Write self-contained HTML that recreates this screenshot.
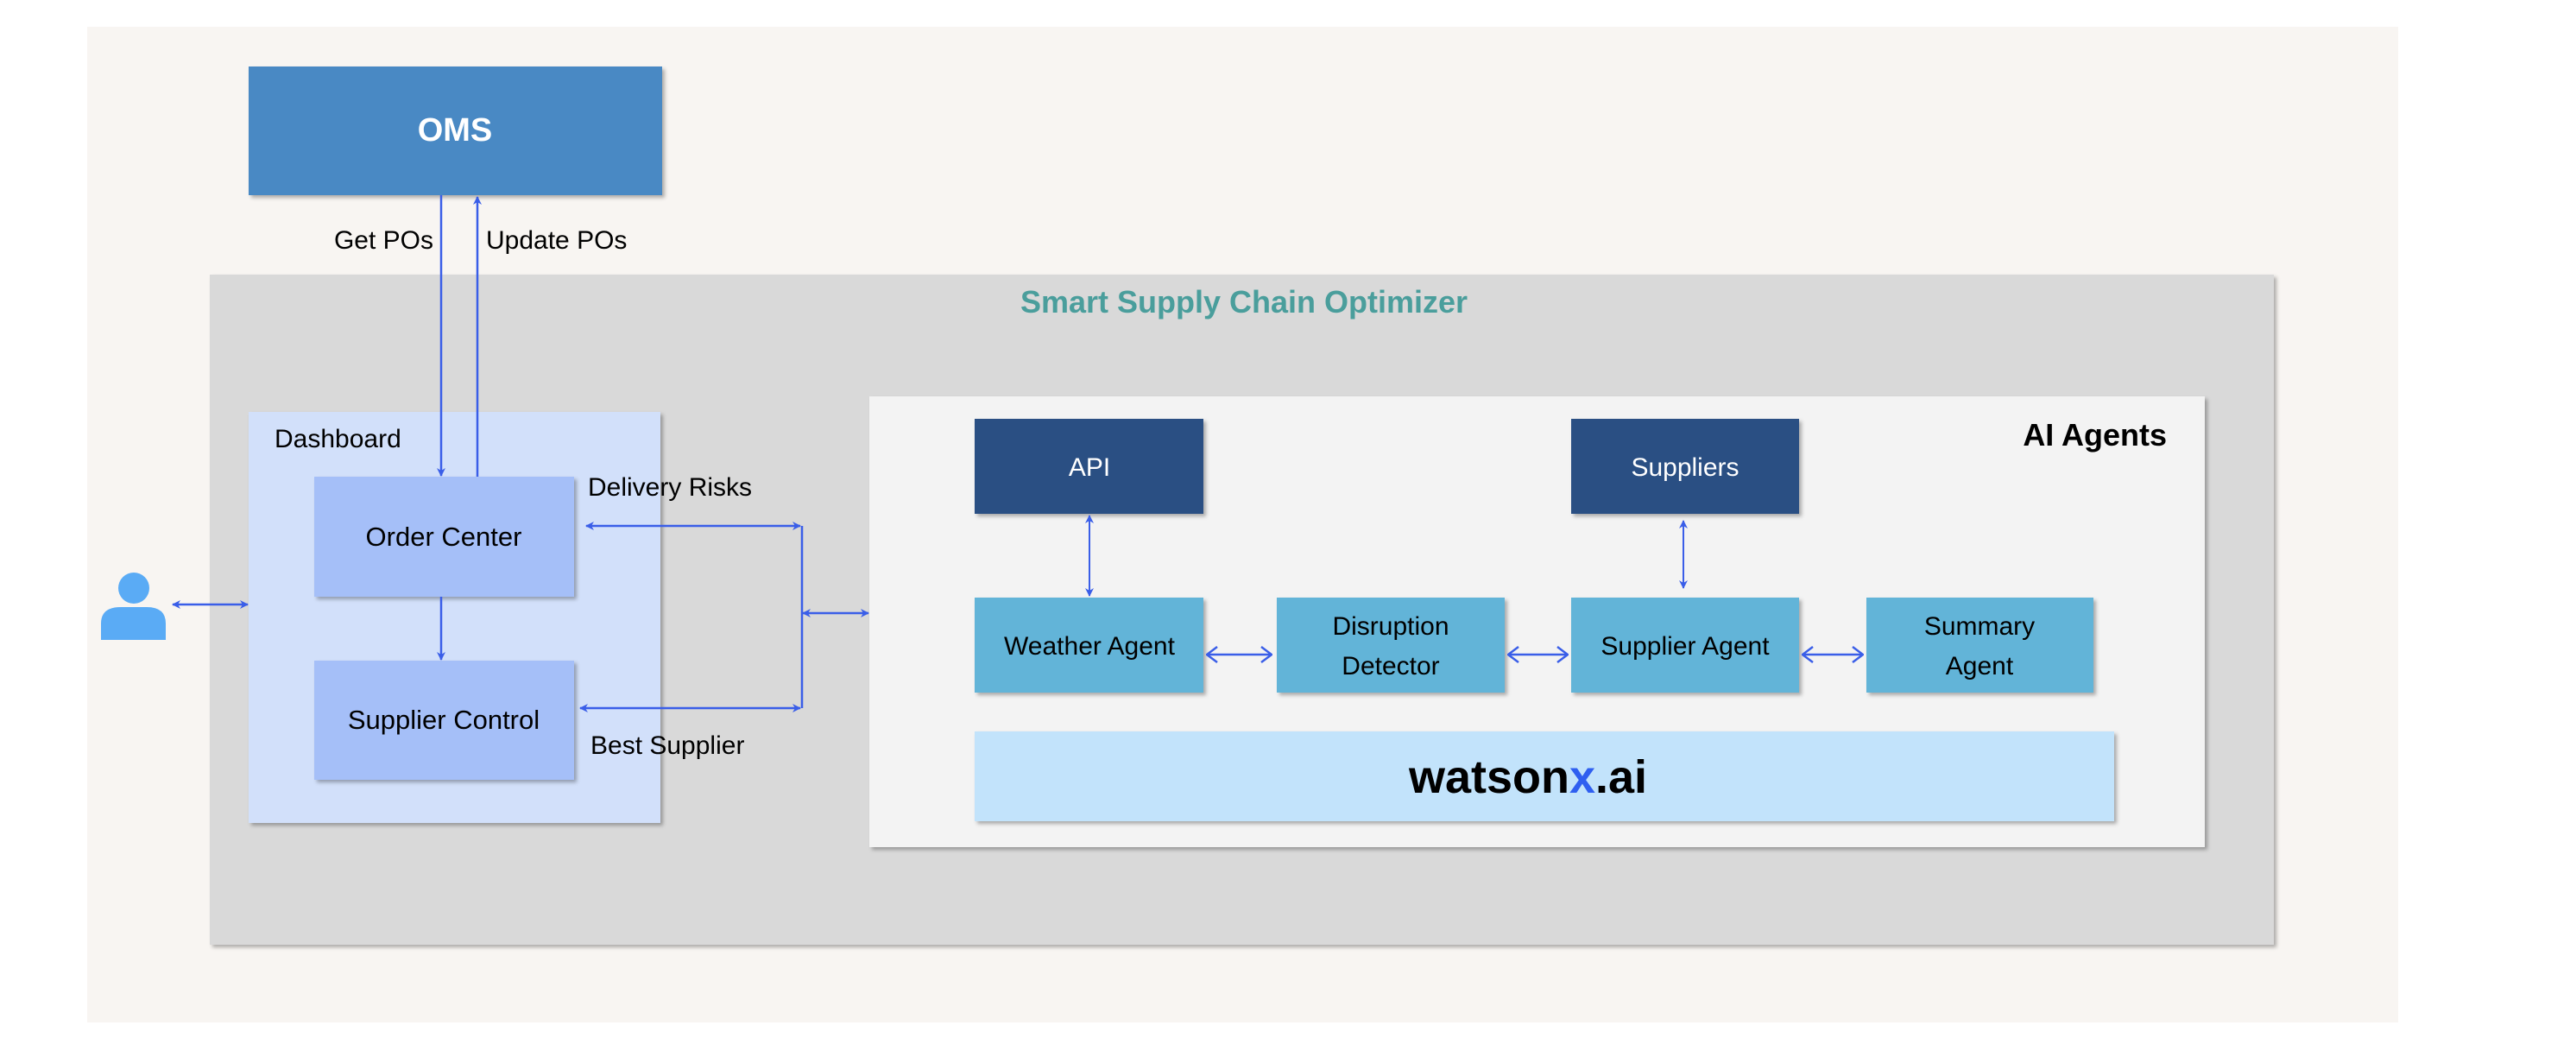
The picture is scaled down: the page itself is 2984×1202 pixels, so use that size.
<!DOCTYPE html>
<html><head><meta charset="utf-8"><style>
html,body{margin:0;padding:0;background:#fff;}
svg{display:block;}
text{font-family:"Liberation Sans",sans-serif;}
</style></head><body>
<svg width="2984" height="1202" viewBox="0 0 2984 1202" xmlns="http://www.w3.org/2000/svg">
<defs>
<filter id="sh" x="-10%" y="-10%" width="130%" height="130%"><feDropShadow dx="3" dy="3" stdDeviation="2" flood-color="#000" flood-opacity="0.3"/></filter>
<marker id="ah" markerWidth="10" markerHeight="10" refX="9" refY="5" orient="auto-start-reverse" markerUnits="userSpaceOnUse"><path d="M0,0 L10,5 L0,10 L3,5 Z" fill="#3a5ee8"/></marker>
<marker id="ch" markerWidth="14" markerHeight="20" refX="13" refY="10" orient="auto-start-reverse" markerUnits="userSpaceOnUse"><path d="M1,1 L13,10 L1,19" fill="none" stroke="#3a5ee8" stroke-width="2.5"/></marker>
</defs>
<rect x="101" y="31" width="2677" height="1153" fill="#f8f5f2"/>
<!-- OMS -->
<rect x="288" y="77" width="479" height="149" fill="#4a89c4" filter="url(#sh)"/>
<text x="527" y="163" font-size="38" font-weight="bold" fill="#fff" text-anchor="middle">OMS</text>
<text x="502" y="288" font-size="30" text-anchor="end" fill="#000">Get POs</text>
<text x="563" y="288" font-size="30" fill="#000">Update POs</text>
<!-- gray container -->
<rect x="243" y="318" width="2391" height="776" fill="#d9d9d9" filter="url(#sh)"/>
<text x="1441" y="362" font-size="36" font-weight="bold" fill="#4a9e9c" text-anchor="middle">Smart Supply Chain Optimizer</text>
<!-- dashboard -->
<rect x="288" y="477" width="477" height="476" fill="#d2e0fa" filter="url(#sh)"/>
<text x="318" y="518" font-size="30" fill="#000">Dashboard</text>
<rect x="364" y="552" width="301" height="139" fill="#a5bff8" filter="url(#sh)"/>
<text x="514" y="632" font-size="31" fill="#000" text-anchor="middle">Order Center</text>
<rect x="364" y="765" width="301" height="138" fill="#a5bff8" filter="url(#sh)"/>
<text x="514" y="844" font-size="31" fill="#000" text-anchor="middle">Supplier Control</text>
<!-- arrows dashboard -->
<g stroke="#3a5ee8" stroke-width="2.5" fill="none">
<line x1="511" y1="226" x2="511" y2="551" marker-end="url(#ah)"/>
<line x1="553" y1="552" x2="553" y2="228" marker-end="url(#ah)"/>
<line x1="511" y1="691" x2="511" y2="764" marker-end="url(#ah)"/>
<line x1="200" y1="700" x2="287" y2="700" marker-start="url(#ah)" marker-end="url(#ah)"/>
<line x1="679" y1="609" x2="927" y2="609" marker-start="url(#ah)" marker-end="url(#ah)"/>
<line x1="672" y1="820" x2="927" y2="820" marker-start="url(#ah)" marker-end="url(#ah)"/>
<line x1="929" y1="609" x2="929" y2="820"/>
<line x1="930" y1="710" x2="1006" y2="710" marker-start="url(#ah)" marker-end="url(#ah)"/>
</g>
<text x="681" y="574" font-size="30" fill="#000">Delivery Risks</text>
<text x="684" y="873" font-size="30" fill="#000">Best Supplier</text>
<!-- person -->
<circle cx="155" cy="681" r="18" fill="#5aabf5"/>
<path d="M117,741 L117,722 Q117,703 140,703 L170,703 Q192,703 192,722 L192,741 Z" fill="#5aabf5"/>
<!-- AI agents -->
<rect x="1007" y="459" width="1547" height="522" fill="#f3f3f3" filter="url(#sh)"/>
<text x="2510" y="516" font-size="36" font-weight="bold" fill="#000" text-anchor="end">AI Agents</text>
<rect x="1129" y="485" width="265" height="110" fill="#2a5083" filter="url(#sh)"/>
<text x="1262" y="551" font-size="30" fill="#fff" text-anchor="middle">API</text>
<rect x="1820" y="485" width="264" height="110" fill="#2a5083" filter="url(#sh)"/>
<text x="1952" y="551" font-size="30" fill="#fff" text-anchor="middle">Suppliers</text>
<g fill="#62b4d8" filter="url(#sh)">
<rect x="1129" y="692" width="265" height="110"/>
<rect x="1479" y="692" width="264" height="110"/>
<rect x="1820" y="692" width="264" height="110"/>
<rect x="2162" y="692" width="263" height="110"/>
</g>
<g font-size="30" fill="#000" text-anchor="middle">
<text x="1262" y="758">Weather Agent</text>
<text x="1611" y="735">Disruption</text>
<text x="1611" y="781">Detector</text>
<text x="1952" y="758">Supplier Agent</text>
<text x="2293" y="735">Summary</text>
<text x="2293" y="781">Agent</text>
</g>
<g stroke="#3a5ee8" stroke-width="2" fill="none">
<line x1="1262" y1="597" x2="1262" y2="690" marker-start="url(#ah)" marker-end="url(#ah)"/>
<line x1="1950" y1="603" x2="1950" y2="681" marker-start="url(#ah)" marker-end="url(#ah)"/>
<line x1="1398" y1="758" x2="1473" y2="758" stroke-width="2.5" marker-start="url(#ch)" marker-end="url(#ch)"/>
<line x1="1747" y1="758" x2="1816" y2="758" stroke-width="2.5" marker-start="url(#ch)" marker-end="url(#ch)"/>
<line x1="2088" y1="758" x2="2158" y2="758" stroke-width="2.5" marker-start="url(#ch)" marker-end="url(#ch)"/>
</g>
<rect x="1129" y="847" width="1320" height="104" fill="#c2e3fb" filter="url(#sh)"/>
<text x="1770" y="918" font-size="54" font-weight="bold" fill="#000" text-anchor="middle">watson<tspan fill="#2f5ff0">x</tspan>.ai</text>
</svg>
</body></html>
